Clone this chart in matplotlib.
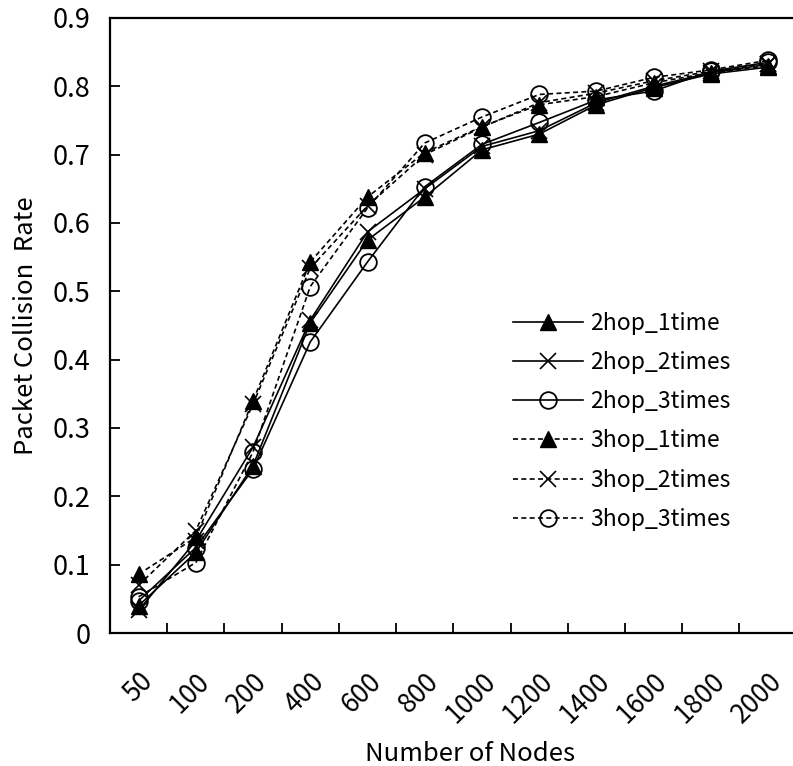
import matplotlib
matplotlib.use("Agg")
import matplotlib.pyplot as plt
import numpy as np

plt.rcParams['font.family'] = ['Noto Sans CJK JP', 'DejaVu Sans']

# data
nodes = ["50", "100", "200", "400", "600", "800", "1000", "1200", "1400", "1600", "1800", "2000"]
hop2_1time = [0.040, 0.118, 0.245, 0.454, 0.575, 0.638, 0.707, 0.730, 0.773, 0.798, 0.818, 0.828]
hop2_2times = [0.033, 0.135, 0.272, 0.458, 0.587, 0.650, 0.712, 0.735, 0.776, 0.800, 0.820, 0.832]
hop2_3times = [0.047, 0.125, 0.240, 0.426, 0.543, 0.653, 0.715, 0.747, 0.780, 0.793, 0.822, 0.835]
hop3_1time = [0.086, 0.140, 0.340, 0.543, 0.638, 0.703, 0.741, 0.773, 0.785, 0.805, 0.820, 0.830]
hop3_2times = [0.070, 0.150, 0.335, 0.534, 0.625, 0.700, 0.740, 0.776, 0.790, 0.808, 0.822, 0.833]
hop3_3times = [0.053, 0.103, 0.265, 0.507, 0.622, 0.717, 0.755, 0.788, 0.793, 0.813, 0.824, 0.838]

x = np.arange(len(nodes))

fig = plt.figure(figsize=(7.93, 7.66), dpi=100)
ax = fig.add_axes([0.1387, 0.1736, 0.866, 0.803])

solid = dict(color='black', linestyle='-', linewidth=1.2)
dashed = dict(color='black', linestyle=(0, (3, 2)), linewidth=1.2)

ax.plot(x, hop2_1time, marker='^', markersize=11, markerfacecolor='black', label='2hop_1time', **solid)
ax.plot(x, hop2_2times, marker='x', markersize=11, markeredgewidth=1.2, label='2hop_2times', **solid)
ax.plot(x, hop2_3times, marker='o', markersize=12, markerfacecolor='none', markeredgewidth=1.3,
        label='2hop_3times', **solid)
ax.plot(x, hop3_1time, marker='^', markersize=11, markerfacecolor='black', label='3hop_1time', **dashed)
ax.plot(x, hop3_2times, marker='x', markersize=11, markeredgewidth=1.2, label='3hop_2times', **dashed)
ax.plot(x, hop3_3times, marker='o', markersize=12, markerfacecolor='none', markeredgewidth=1.3,
        label='3hop_3times', **dashed)

ax.set_xlim(-0.5, len(nodes) - 0.5)
ax.set_ylim(0, 0.9)
ax.set_yticks(np.arange(0, 0.91, 0.1))
ax.set_yticklabels(['0'] + ['%.1f' % v for v in np.arange(0.1, 0.91, 0.1)])

ax.set_xticks(x)
ax.set_xticklabels(nodes, rotation=45, ha='right', va='top', rotation_mode='anchor')
ax.set_xticks(np.arange(0.5, len(nodes) - 0.5, 1), minor=True)
ax.tick_params(axis='x', which='major', length=0, pad=25, labelsize=19)
ax.tick_params(axis='x', which='minor', direction='in', length=7, width=1.3)
ax.tick_params(axis='y', direction='in', length=7, width=1.3, labelsize=19.5, pad=14)

for s in ax.spines.values():
    s.set_linewidth(1.6)

ax.set_xlabel('Number of Nodes', fontsize=18.5)
ax.xaxis.set_label_coords(0.525, -0.175)
ax.set_ylabel('Packet Collision  Rate', fontsize=18.5, labelpad=10)

ax.legend(loc='upper left', bbox_to_anchor=(0.557, 0.556), frameon=False, fontsize=16.5,
          handlelength=3.05, labelspacing=0.71, handletextpad=0.3)

fig.savefig('out.png', dpi=100)
